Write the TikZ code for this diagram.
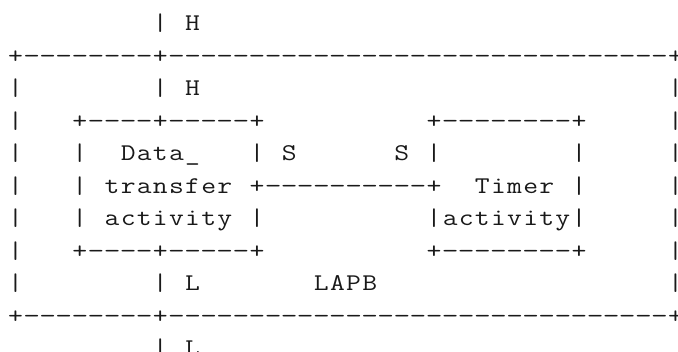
\documentclass[tikz,border=0pt]{standalone}
\usepackage{graphicx}
% typewriter text on a fixed character grid: 16.1pt column pitch, 32.5pt line pitch;
% each glyph is widened a little so that it fills its cell like a typewriter face,
% hyphens a little more so that rules read as dashes with short gaps
\makeatletter
\def\asc@hyph{-}
\newcommand\gridrow[1]{%
  \@tfor\asc@ch:=#1\do{%
    \ifx\asc@ch\asc@hyph
      \makebox[16.1pt][c]{\scalebox{1.35}[1]{-}}%
    \else
      \makebox[16.1pt][c]{\scalebox{1.2}[1]{\asc@ch}}%
    \fi}\kern-8pt}
\makeatother
\tikzset{
  asciirow/.style={anchor=base west, inner sep=0pt, outer sep=0pt,
    font=\ttfamily\fontsize{24}{30}\selectfont, text=black!90}
}
\begin{document}
\begin{tikzpicture}[x=1pt,y=1pt]
\useasboundingbox (0,0) rectangle (678,352);
\clip (0,0) rectangle (678,352);
% baseline of row r: 321 - 32.5 r ; first column starts at x = 7.45
\node[asciirow] (row0)  at (7.45,321.0) {\gridrow{~~~~~~~~~|~H}};
\node[asciirow] (row1)  at (7.45,288.5) {\gridrow{+--------+-------------------------------+}};
\node[asciirow] (row2)  at (7.45,256.0) {\gridrow{|~~~~~~~~|~H~~~~~~~~~~~~~~~~~~~~~~~~~~~~~|}};
\node[asciirow] (row3)  at (7.45,223.5) {\gridrow{|~~~+----+-----+~~~~~~~~~~+--------+~~~~~|}};
\node[asciirow] (row4)  at (7.45,191.0) {\gridrow{|~~~|~~Data\_~~~|~S~~~~~~S~|~~~~~~~~|~~~~~|}};
\node[asciirow] (row5)  at (7.45,158.5) {\gridrow{|~~~|~transfer~+----------+~~Timer~|~~~~~|}};
\node[asciirow] (row6)  at (7.45,126.0) {\gridrow{|~~~|~activity~|~~~~~~~~~~|activity|~~~~~|}};
\node[asciirow] (row7)  at (7.45,93.5)  {\gridrow{|~~~+----+-----+~~~~~~~~~~+--------+~~~~~|}};
\node[asciirow] (row8)  at (7.45,61.0)  {\gridrow{|~~~~~~~~|~L~~~~~~~LAPB~~~~~~~~~~~~~~~~~~|}};
\node[asciirow] (row9)  at (7.45,28.5)  {\gridrow{+--------+-------------------------------+}};
\node[asciirow] (row10) at (7.45,-4.0)  {\gridrow{~~~~~~~~~|~L}};
\end{tikzpicture}
\end{document}
